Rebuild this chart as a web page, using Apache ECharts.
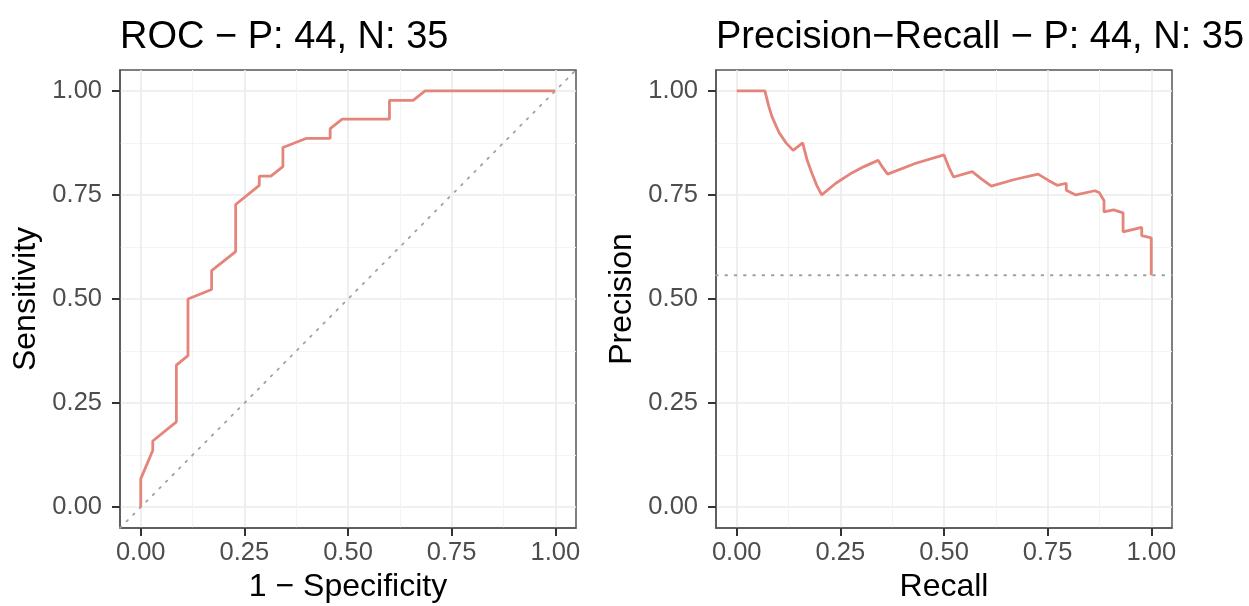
<!DOCTYPE html>
<html>
<head>
<meta charset="utf-8">
<script src="https://cdn.jsdelivr.net/npm/echarts@6/dist/echarts.min.js"></script>
<style>
  html, body { margin: 0; padding: 0; background: #fff; }
  #chart { width: 1249px; height: 606px; }
</style>
</head>
<body>
<div id="chart"></div>
<script>
// ROC curve (1 - specificity, sensitivity)
var rocFpr = [0, 0, 0.029, 0.029, 0.086, 0.086, 0.114, 0.114, 0.171, 0.171, 0.229, 0.229,
  0.286, 0.286, 0.314, 0.343, 0.343, 0.4, 0.457, 0.457, 0.486, 0.6, 0.6, 0.657, 0.686, 1];
var rocTpr = [0, 0.068, 0.136, 0.159, 0.205, 0.341, 0.364, 0.5, 0.523, 0.568, 0.614, 0.727,
  0.773, 0.795, 0.795, 0.818, 0.864, 0.886, 0.886, 0.909, 0.932, 0.932, 0.977, 0.977, 1, 1];

// Precision-Recall curve
var prRecall = [0, 0.068, 0.077, 0.085, 0.102, 0.119, 0.136, 0.159, 0.17, 0.182, 0.193, 0.205,
  0.239, 0.273, 0.307, 0.341, 0.352, 0.364, 0.432, 0.5, 0.511, 0.523, 0.568, 0.591, 0.614,
  0.67, 0.727, 0.75, 0.773, 0.795, 0.795, 0.818, 0.864, 0.875, 0.886, 0.886, 0.909, 0.932,
  0.932, 0.977, 0.977, 1, 1];
var prPrecision = [1, 1, 0.964, 0.938, 0.9, 0.875, 0.857, 0.875, 0.833, 0.8, 0.773, 0.75,
  0.778, 0.8, 0.818, 0.833, 0.816, 0.8, 0.826, 0.846, 0.818, 0.793, 0.806, 0.788, 0.771,
  0.787, 0.8, 0.786, 0.773, 0.778, 0.761, 0.75, 0.76, 0.755, 0.736, 0.709, 0.714, 0.707,
  0.661, 0.672, 0.652, 0.647, 0.557];

// reference lines
var rocChance = [-0.05, 1.05];
var prBaseline = 0.557;

var majorTicks = [0, 0.25, 0.5, 0.75, 1];
var minorTicks = [0.125, 0.375, 0.625, 0.875];
var axisRange = [-0.05, 1.05];

var titles = ['ROC \u2212 P: 44, N: 35', 'Precision\u2212Recall \u2212 P: 44, N: 35'];
var xNames = ['1 \u2212 Specificity', 'Recall'];
var yNames = ['Sensitivity', 'Precision'];

var FONT = "'Liberation Sans', Arial, Helvetica, sans-serif";
var curveColor = '#E4847A';
var dotColor = '#A0A0A0';

function zip(a, b) {
  var out = [];
  for (var i = 0; i < a.length; i++) out.push([a[i], b[i]]);
  return out;
}

function majorAxis(idx, isX) {
  return {
    type: 'value',
    gridIndex: idx,
    min: axisRange[0],
    max: axisRange[1],
    name: isX ? xNames[idx] : yNames[idx],
    nameLocation: 'middle',
    nameGap: isX ? 42 : 78,
    nameTextStyle: { fontFamily: FONT, fontSize: 32, color: '#000' },
    axisLine: { show: true, onZero: false, lineStyle: { color: '#555', width: 1.5 } },
    axisTick: { show: true, length: 8, lineStyle: { color: '#333', width: 2 }, customValues: majorTicks },
    axisLabel: {
      show: true, margin: isX ? 12 : 18, fontFamily: FONT, fontSize: 25.5, color: '#4D4D4D',
      customValues: majorTicks,
      formatter: function (v) { return v.toFixed(2); }
    },
    splitLine: { show: true, lineStyle: { color: '#EBEBEB', width: 1.6 } }
  };
}

function minorAxis(idx) {
  return {
    type: 'value',
    gridIndex: idx,
    min: axisRange[0],
    max: axisRange[1],
    axisLine: { show: false, onZero: false },
    axisTick: { show: false, customValues: minorTicks },
    axisLabel: { show: false, customValues: minorTicks },
    splitLine: { show: true, lineStyle: { color: '#F4F4F4', width: 1 } }
  };
}

var chart = echarts.init(document.getElementById('chart'), null, { renderer: 'canvas' });

var option = {
  backgroundColor: '#fff',
  animation: false,
  title: [
    { text: titles[0], left: 120, top: 19, padding: 0,
      textStyle: { fontFamily: FONT, fontSize: 38, fontWeight: 'normal', color: '#000' } },
    { text: titles[1], left: 716, top: 19, padding: 0,
      textStyle: { fontFamily: FONT, fontSize: 38, fontWeight: 'normal', color: '#000' } }
  ],
  grid: [
    { left: 120, top: 70, width: 456, height: 458, show: true, borderColor: '#555', borderWidth: 1.5,
      backgroundColor: 'transparent', outerBoundsMode: 'none', containLabel: false },
    { left: 716, top: 70, width: 456, height: 458, show: true, borderColor: '#555', borderWidth: 1.5,
      backgroundColor: 'transparent', outerBoundsMode: 'none', containLabel: false }
  ],
  xAxis: [majorAxis(0, true), majorAxis(1, true), minorAxis(0), minorAxis(1)],
  yAxis: [majorAxis(0, false), majorAxis(1, false), minorAxis(0), minorAxis(1)],
  series: [
    {
      type: 'line', xAxisIndex: 0, yAxisIndex: 0,
      data: zip(rocChance, rocChance),
      symbol: 'none', silent: true,
      lineStyle: { color: dotColor, width: 1.8, type: [1.8, 7.5], cap: 'round' }
    },
    {
      type: 'line', xAxisIndex: 0, yAxisIndex: 0,
      data: zip(rocFpr, rocTpr),
      symbol: 'none', silent: true,
      lineStyle: { color: curveColor, width: 2.8 }
    },
    {
      type: 'line', xAxisIndex: 1, yAxisIndex: 1,
      data: zip(axisRange, [prBaseline, prBaseline]),
      symbol: 'none', silent: true,
      lineStyle: { color: dotColor, width: 1.8, type: [1.8, 7.5], cap: 'round' }
    },
    {
      type: 'line', xAxisIndex: 1, yAxisIndex: 1,
      data: zip(prRecall, prPrecision),
      symbol: 'none', silent: true,
      lineStyle: { color: curveColor, width: 2.8 }
    }
  ]
};

chart.setOption(option);
</script>
</body>
</html>
